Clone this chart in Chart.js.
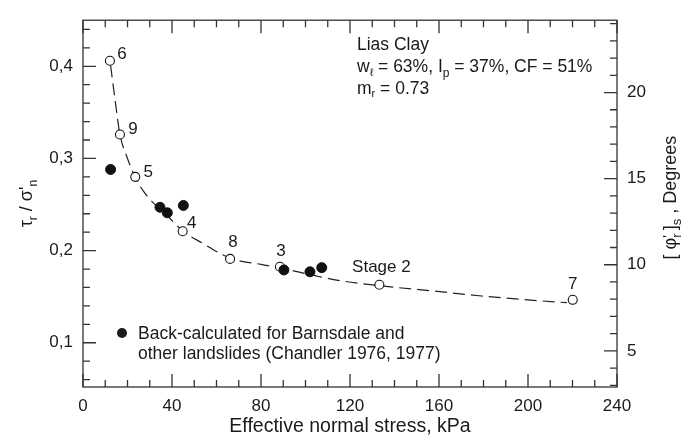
<!DOCTYPE html>
<html>
<head>
<meta charset="utf-8">
<script src="https://cdn.jsdelivr.net/npm/chart.js@4"></script>
<style>
  html, body { margin: 0; padding: 0; background: #fff; }
</style>
</head>
<body>
<canvas id="shearChart" width="691" height="443"></canvas>
<script>
// ring shear tests (open circles): effective normal stress kPa, tau_r / sigma'_n
const testStress = [12.1, 16.6, 23.5, 44.8, 66.1, 88.5, 133.2, 220.1];
const testRatio = [0.406, 0.326, 0.280, 0.221, 0.191, 0.1825, 0.163, 0.1466];
const testLabels = ['6', '9', '5', '4', '8', '3', 'Stage 2', '7'];

// back-calculated from landslides (filled circles)
const fieldStress = [12.4, 34.6, 37.9, 45.1, 90.3, 102, 107.3];
const fieldRatio = [0.288, 0.247, 0.241, 0.249, 0.179, 0.177, 0.1815];

// dashed trend line
const curveStress = [12.4, 14.5, 16.6, 20, 23.4, 27, 31.5, 37, 45, 53, 66, 80, 89, 100, 114, 133, 156, 178, 200, 217.5];
const curveRatio = [0.401, 0.362, 0.326, 0.300, 0.280, 0.265, 0.252, 0.240, 0.221, 0.209, 0.192, 0.185, 0.181, 0.175, 0.168, 0.162, 0.1565, 0.151, 0.1465, 0.1435];

const xTicks = [0, 40, 80, 120, 160, 200, 240];
const yTicks = [0.1, 0.2, 0.3, 0.4];
const degTicks = [5, 10, 15, 20];

// label placement relative to the point (px)
const labelOffsets = [[12, -6], [13, -5], [13, -5], [9, -8], [3, -17], [1, -15], [2, -17], [0, -16]];

const FONT = '"Liberation Sans", Arial, sans-serif';
const INK = '#1a1a1a';
const AXIS = '#333';

function toPoints(xs, ys) {
    return xs.map((x, i) => ({ x: x, y: ys[i] }));
}

// draw a row of text pieces with sub/superscripts
function drawRuns(ctx, runs, x, y, align) {
    let total = 0;
    runs.forEach(r => {
        ctx.font = (r.size || 17.5) + 'px ' + FONT;
        r.w = ctx.measureText(r.t).width;
        if (!r.stack) total += r.w;
    });
    let cx = align === 'center' ? x - total / 2 : x;
    let lastX = cx;
    runs.forEach(r => {
        ctx.font = (r.size || 17.5) + 'px ' + FONT;
        const px = r.stack ? lastX : cx;
        ctx.fillText(r.t, px, y + (r.dy || 0));
        if (!r.stack) {
            lastX = cx;
            cx += r.w;
        }
    });
}

const frame = {
    id: 'frame',
    afterDraw(chart) {
        const ctx = chart.ctx;
        const a = chart.chartArea;
        const xs = chart.scales.x, ys = chart.scales.y, ds = chart.scales.y2;
        ctx.save();
        ctx.strokeStyle = AXIS;
        ctx.lineWidth = 1.3;
        ctx.strokeRect(a.left, a.top, a.right - a.left, a.bottom - a.top);

        ctx.beginPath();
        for (let v = 0; v <= 240; v += 10) {
            const p = xs.getPixelForValue(v);
            const len = v % 40 === 0 ? 13 : 7;
            ctx.moveTo(p, a.bottom); ctx.lineTo(p, a.bottom - len);
            ctx.moveTo(p, a.top); ctx.lineTo(p, a.top + len);
        }
        for (let k = 3; k <= 22; k++) {
            const v = k / 50;
            const p = ys.getPixelForValue(v);
            const len = k % 5 === 0 ? 13 : 7;
            ctx.moveTo(a.left, p); ctx.lineTo(a.left + len, p);
        }
        for (let v = 3; v <= 24; v++) {
            const p = ds.getPixelForValue(v);
            const len = v % 5 === 0 ? 13 : 7;
            ctx.moveTo(a.right, p); ctx.lineTo(a.right - len, p);
        }
        ctx.stroke();

        ctx.fillStyle = INK;
        ctx.textBaseline = 'middle';
        ctx.textAlign = 'center';
        ctx.font = '17px ' + FONT;
        testLabels.forEach((t, i) => {
            const px = xs.getPixelForValue(testStress[i]) + labelOffsets[i][0];
            const py = ys.getPixelForValue(testRatio[i]) + labelOffsets[i][1];
            ctx.fillText(t, px, py);
        });

        ctx.textBaseline = 'alphabetic';
        ctx.textAlign = 'left';
        drawRuns(ctx, [{ t: 'Lias Clay' }], 357, 50);
        drawRuns(ctx, [
            { t: 'w' }, { t: 'ℓ', size: 11, dy: 4 }, { t: ' = 63%, I' },
            { t: 'p', size: 12, dy: 5 }, { t: ' = 37%, CF = 51%' }
        ], 357, 72);
        drawRuns(ctx, [{ t: 'm' }, { t: 'r', size: 11, dy: 3 }, { t: ' = 0.73' }], 357, 94);

        // legend
        ctx.beginPath();
        ctx.arc(122, 333, 5, 0, Math.PI * 2);
        ctx.fill();
        drawRuns(ctx, [{ t: 'Back-calculated for Barnsdale and' }], 138, 339);
        drawRuns(ctx, [{ t: 'other landslides (Chandler 1976, 1977)' }], 138, 359);

        // axis titles
        drawRuns(ctx, [{ t: 'Effective normal stress, kPa', size: 19.5 }], (a.left + a.right) / 2, 432, 'center');

        ctx.save();
        ctx.translate(32, (a.top + a.bottom) / 2);
        ctx.rotate(-Math.PI / 2);
        drawRuns(ctx, [
            { t: 'τ', size: 18 }, { t: 'r', size: 12, dy: 5 }, { t: ' / σ', size: 18 },
            { t: '\'', size: 18 }, { t: 'n', size: 12, dy: 5 }
        ], 0, 0, 'center');
        ctx.restore();

        ctx.save();
        ctx.translate(676, (a.top + a.bottom) / 2 - 6);
        ctx.rotate(-Math.PI / 2);
        drawRuns(ctx, [
            { t: '[ φ', size: 18 }, { t: '\'', size: 14, dy: -3 }, { t: 'r', size: 13, dy: 5, stack: true },
            { t: ' ]', size: 18 }, { t: 's', size: 13, dy: 5 }, { t: ' , Degrees', size: 18 }
        ], 0, 0, 'center');
        ctx.restore();
        ctx.restore();
    }
};

const tickFont = { family: FONT, size: 17 };

new Chart(document.getElementById('shearChart'), {
    type: 'scatter',
    data: {
        datasets: [
            {
                label: 'Back-calculated',
                data: toPoints(fieldStress, fieldRatio),
                pointRadius: 5,
                pointBackgroundColor: '#111',
                pointBorderColor: '#111',
                pointBorderWidth: 1
            },
            {
                label: 'Ring shear',
                data: toPoints(testStress, testRatio),
                pointRadius: 4.5,
                pointBackgroundColor: '#fff',
                pointBorderColor: '#111',
                pointBorderWidth: 1.1
            },
            {
                label: 'Trend',
                data: toPoints(curveStress, curveRatio),
                showLine: true,
                pointRadius: 0,
                borderColor: '#222',
                borderWidth: 1.2,
                borderDash: [12, 6],
                cubicInterpolationMode: 'monotone'
            }
        ]
    },
    options: {
        responsive: false,
        animation: false,
        layout: { padding: { top: 13 } },
        plugins: { legend: { display: false }, tooltip: { enabled: false } },
        scales: {
            x: {
                type: 'linear',
                min: 0,
                max: 240,
                afterBuildTicks: s => { s.ticks = xTicks.map(v => ({ value: v })); },
                afterFit: s => { s.height = 56; },
                grid: { display: false, drawTicks: false },
                border: { display: false },
                ticks: { font: tickFont, color: INK, padding: 9, maxRotation: 0 }
            },
            y: {
                type: 'linear',
                position: 'left',
                min: 0.052,
                max: 0.45,
                afterBuildTicks: s => { s.ticks = yTicks.map(v => ({ value: v })); },
                afterFit: s => { s.width = 83; },
                grid: { display: false, drawTicks: false },
                border: { display: false },
                ticks: { font: tickFont, color: INK, padding: 10, callback: v => v.toFixed(1).replace('.', ',') }
            },
            y2: {
                type: 'linear',
                position: 'right',
                min: 2.9,
                max: 24.2,
                afterBuildTicks: s => { s.ticks = degTicks.map(v => ({ value: v })); },
                afterFit: s => { s.width = 74; },
                grid: { display: false, drawTicks: false },
                border: { display: false },
                ticks: { font: tickFont, color: INK, padding: 10 }
            }
        }
    },
    plugins: [frame]
});
</script>
</body>
</html>
